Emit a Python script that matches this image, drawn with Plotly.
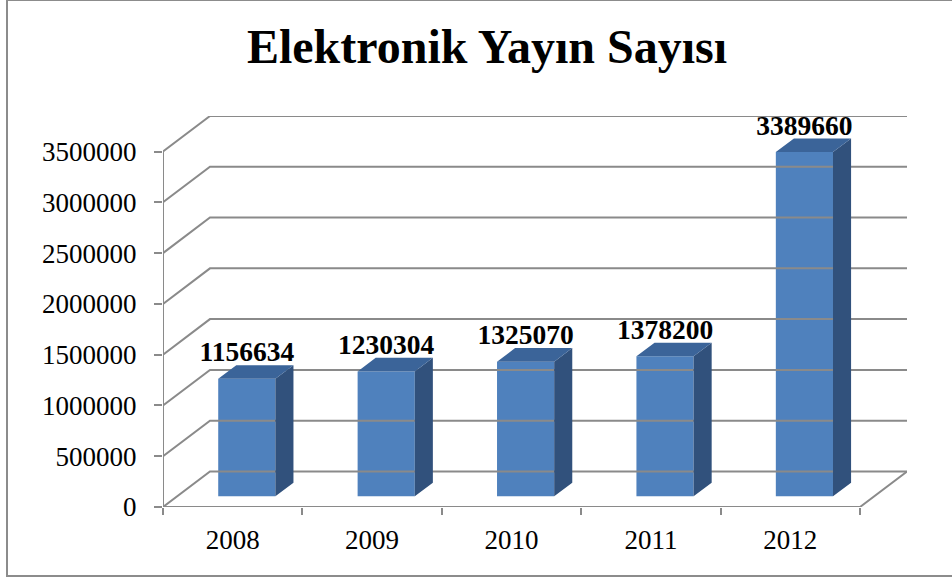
import plotly.graph_objects as go

# ---- data ----
years = ["2008", "2009", "2010", "2011", "2012"]
values = [1156634, 1230304, 1325070, 1378200, 3389660]
y_ticks = [0, 500000, 1000000, 1500000, 2000000, 2500000, 3000000, 3500000]
title_text = "Elektronik Yayın Sayısı"

# ---- pseudo-3D geometry (in axis units) ----
DX = 0.337        # depth offset along x (category units)
DY = 0.35e6       # depth offset along y (value units)
F1, F2 = 0.30, 0.685   # bar front / back depth fractions
W = 0.41          # bar width (category units)
N = len(years)
LABEL_DROP = 0.03e6    # small downward nudge of value labels (value units)

FRONT = "#4F81BD"
TOP = "#3B6499"
SIDE = "#31517C"
GRID = "#8A8A8A"
FONT = "Liberation Serif"

fig = go.Figure()

# back wall gridlines + left wall diagonals
gx, gy = [], []
for v in y_ticks:
    gx += [0, DX, N + DX, None]
    gy += [v, v + DY, v + DY, None]
# floor front edge and right diagonal
gx += [0, N, N + DX, None]
gy += [0, 0, DY, None]
# front vertical axis line
gx += [0, 0, None]
gy += [0, y_ticks[-1], None]
fig.add_trace(go.Scatter(x=gx, y=gy, mode="lines",
                         line=dict(color=GRID, width=2),
                         hoverinfo="skip", showlegend=False))

centers = [i + 0.5 + F1 * DX for i in range(N)]
ddx = (F2 - F1) * DX

# side faces
sx, sy = [], []
for c, v in zip(centers, values):
    xr = c + W / 2
    sx += [xr, xr, xr + ddx, xr + ddx, xr, None]
    sy += [F1 * DY, v + F1 * DY, v + F2 * DY, F2 * DY, F1 * DY, None]
fig.add_trace(go.Scatter(x=sx, y=sy, mode="lines", fill="toself",
                         fillcolor=SIDE, line=dict(width=0, color=SIDE),
                         hoverinfo="skip", showlegend=False))
# top faces
tx, ty = [], []
for c, v in zip(centers, values):
    xl, xr = c - W / 2, c + W / 2
    tx += [xl, xr, xr + ddx, xl + ddx, xl, None]
    ty += [v + F1 * DY, v + F1 * DY, v + F2 * DY, v + F2 * DY, v + F1 * DY, None]
fig.add_trace(go.Scatter(x=tx, y=ty, mode="lines", fill="toself",
                         fillcolor=TOP, line=dict(width=0, color=TOP),
                         hoverinfo="skip", showlegend=False))
# front faces
fig.add_trace(go.Bar(x=centers, y=values, base=F1 * DY, width=W,
                     marker=dict(color=FRONT, line=dict(width=0)),
                     hoverinfo="skip", showlegend=False))
# value labels
fig.add_trace(go.Scatter(x=centers, y=[v + F2 * DY - LABEL_DROP for v in values],
                         mode="text", text=[str(v) for v in values],
                         textposition="top center",
                         textfont=dict(family=FONT, size=27.5, color="black", weight="bold"),
                         hoverinfo="skip", showlegend=False))

L, R, T, B = 163, 45, 116, 74
PW, PH = 952 - L - R, 581 - T - B

def px2paper_x(px):
    return (px - L) / PW

def px2paper_y(py):
    return (581 - B - py) / PH

fig.update_layout(
    width=952, height=581,
    margin=dict(l=L, r=R, t=T, b=B),
    paper_bgcolor="white", plot_bgcolor="white",
    title=dict(text="<b>" + title_text + "</b>", x=487 / 952, xanchor="center",
               y=1 - 46 / 581, yanchor="middle",
               font=dict(family=FONT, size=48, color="black")),
    xaxis=dict(range=[0, N + DX], showgrid=False, zeroline=False, showline=False,
               tickmode="array", tickvals=[i + 0.5 for i in range(N)], ticktext=years,
               ticks="", ticklabelstandoff=14,
               tickfont=dict(family=FONT, size=27, color="black"),
               minor=dict(tickmode="array", tickvals=list(range(N + 1)), ticks="outside",
                          ticklen=7, tickwidth=2, tickcolor=GRID, showgrid=False),
               fixedrange=True),
    yaxis=dict(range=[0, y_ticks[-1] + DY], showgrid=False, zeroline=False, showline=False,
               tickmode="array", tickvals=y_ticks, ticktext=[str(v) for v in y_ticks],
               ticks="outside", ticklen=8, tickwidth=2, tickcolor=GRID,
               ticklabelstandoff=12,
               tickfont=dict(family=FONT, size=27, color="black"),
               fixedrange=True),
    shapes=[dict(type="rect", xref="paper", yref="paper",
                 x0=px2paper_x(7), x1=px2paper_x(970),
                 y0=px2paper_y(576), y1=px2paper_y(0),
                 line=dict(color="#8C8C8C", width=2), fillcolor="rgba(0,0,0,0)",
                 layer="below")],
)

fig.write_html("out.html", config={"displayModeBar": False},
               post_script="document.body.style.margin='0';document.body.style.overflow='hidden';")
